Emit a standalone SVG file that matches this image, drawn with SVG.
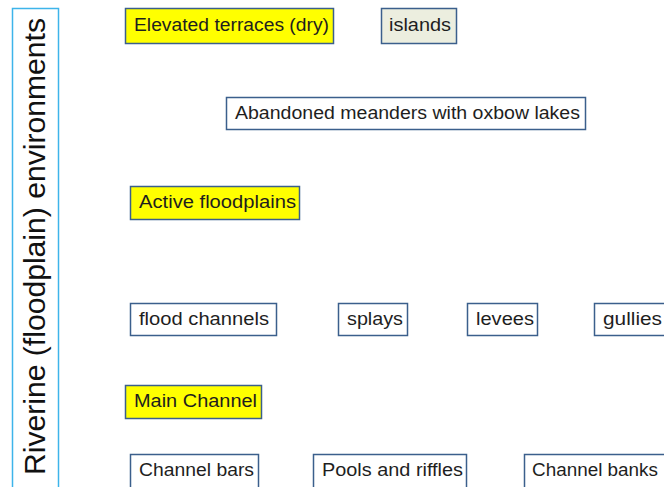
<svg xmlns="http://www.w3.org/2000/svg" width="664" height="487" viewBox="0 0 664 487">
<style>
.box{stroke:#3b5f8c;stroke-width:1.5;fill:#ffffff}
.y{fill:#ffff00}
.g{fill:#eceedf}
.t{font-family:"Liberation Sans",Arial,sans-serif;font-size:17.5px;fill:#1e1e1e}
.side{fill:#ffffff;stroke:#3db4ea;stroke-width:1.5}
.st{font-family:"Liberation Sans",Arial,sans-serif;font-size:30px;fill:#111111}
</style>
<rect width="664" height="487" fill="#ffffff"/>
<g id="side">
<rect class="side" x="12.5" y="8.5" width="46" height="490"/>
<text class="st" transform="translate(44.5,475) rotate(-90)" textLength="457" lengthAdjust="spacingAndGlyphs">Riverine (floodplain) environments</text>
</g>
<g id="elevated">
<rect class="box y" x="125.5" y="8.5" width="208" height="35"/>
<text class="t" x="134" y="31" textLength="195" lengthAdjust="spacingAndGlyphs">Elevated terraces (dry)</text>
</g>
<g id="islands">
<rect class="box g" x="381.5" y="8.5" width="75" height="35"/>
<text class="t" x="389" y="31" textLength="62" lengthAdjust="spacingAndGlyphs">islands</text>
</g>
<g id="abandoned">
<rect class="box" x="226.5" y="97.5" width="359" height="32"/>
<text class="t" x="235" y="119" textLength="345" lengthAdjust="spacingAndGlyphs">Abandoned meanders with oxbow lakes</text>
</g>
<g id="active">
<rect class="box y" x="130.5" y="186.5" width="169" height="33"/>
<text class="t" x="139" y="208" textLength="157" lengthAdjust="spacingAndGlyphs">Active floodplains</text>
</g>
<g id="floodchannels">
<rect class="box" x="130.5" y="303.5" width="146" height="32"/>
<text class="t" x="139" y="325" textLength="130" lengthAdjust="spacingAndGlyphs">flood channels</text>
</g>
<g id="splays">
<rect class="box" x="338.5" y="303.5" width="69" height="32"/>
<text class="t" x="347" y="325" textLength="56" lengthAdjust="spacingAndGlyphs">splays</text>
</g>
<g id="levees">
<rect class="box" x="467.5" y="303.5" width="70" height="32"/>
<text class="t" x="476" y="325" textLength="58" lengthAdjust="spacingAndGlyphs">levees</text>
</g>
<g id="gullies">
<rect class="box" x="594.5" y="303.5" width="80" height="32"/>
<text class="t" x="603" y="325" textLength="59" lengthAdjust="spacingAndGlyphs">gullies</text>
</g>
<g id="mainchannel">
<rect class="box y" x="125.5" y="385.5" width="136" height="33"/>
<text class="t" x="134" y="407" textLength="123" lengthAdjust="spacingAndGlyphs">Main Channel</text>
</g>
<g id="channelbars">
<rect class="box" x="130.5" y="454.5" width="128" height="40"/>
<text class="t" x="139" y="476" textLength="115" lengthAdjust="spacingAndGlyphs">Channel bars</text>
</g>
<g id="pools">
<rect class="box" x="313.5" y="454.5" width="153" height="40"/>
<text class="t" x="322" y="476" textLength="141" lengthAdjust="spacingAndGlyphs">Pools and riffles</text>
</g>
<g id="channelbanks">
<rect class="box" x="524.5" y="454.5" width="150" height="40"/>
<text class="t" x="532" y="476" textLength="126" lengthAdjust="spacingAndGlyphs">Channel banks</text>
</g>
<g id="connectors"></g>
</svg>
